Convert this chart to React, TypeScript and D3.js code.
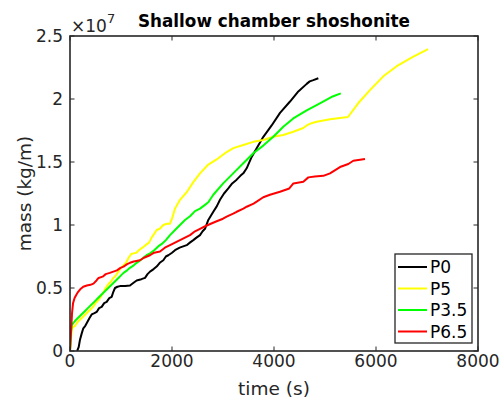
import React from "react";
import * as d3 from "d3";

const title = "Shallow chamber shoshonite";
const xLabel = "time (s)";
const yLabel = "mass (kg/m)";
const xTicks = [0, 2000, 4000, 6000, 8000];
const yTicks = [0, 0.5, 1, 1.5, 2, 2.5];
const seriesNames = ["P0", "P5", "P3.5", "P6.5"];
const seriesColors = ["#000000", "#ffff00", "#00ff00", "#ff0000"];

// values: [time (s), mass (x1e7 kg/m)]
const p0: [number, number][] = [
  [140, 0], [170, 0.03], [196, 0.09], [230, 0.14], [261, 0.18], [300, 0.2], [327, 0.22], [380, 0.26],
  [425, 0.29], [480, 0.3], [523, 0.31], [570, 0.34], [621, 0.35], [670, 0.38], [719, 0.39], [770, 0.42],
  [817, 0.43], [850, 0.47], [882, 0.5], [930, 0.51], [980, 0.515], [1080, 0.515], [1176, 0.52], [1240, 0.54],
  [1307, 0.56], [1400, 0.57], [1471, 0.58], [1520, 0.61], [1569, 0.63], [1640, 0.65], [1699, 0.67], [1760, 0.7],
  [1830, 0.72], [1880, 0.75], [1928, 0.76], [2000, 0.78], [2059, 0.8], [2150, 0.82], [2288, 0.84], [2350, 0.86],
  [2418, 0.88], [2480, 0.9], [2549, 0.92], [2600, 0.95], [2647, 0.97], [2712, 1.04], [2810, 1.105], [2880, 1.15],
  [2941, 1.2], [3020, 1.25], [3104, 1.29], [3180, 1.33], [3268, 1.36], [3340, 1.39], [3398, 1.41], [3464, 1.45],
  [3562, 1.54], [3660, 1.61], [3791, 1.7], [3954, 1.79], [4118, 1.89], [4314, 1.98], [4477, 2.06], [4641, 2.12],
  [4700, 2.14], [4771, 2.15], [4869, 2.165],
];
const p5: [number, number][] = [
  [0, 0], [20, 0.1], [35, 0.17], [60, 0.19], [100, 0.2], [150, 0.23], [200, 0.25], [250, 0.27], [300, 0.29],
  [350, 0.31], [400, 0.33], [450, 0.35], [500, 0.38], [550, 0.4], [600, 0.43], [650, 0.46], [700, 0.5],
  [750, 0.53], [800, 0.55], [850, 0.58], [900, 0.6], [950, 0.63], [1000, 0.66], [1050, 0.68], [1100, 0.7],
  [1150, 0.74], [1200, 0.77], [1250, 0.775], [1300, 0.78], [1350, 0.8], [1420, 0.82], [1480, 0.84], [1550, 0.86],
  [1600, 0.9], [1650, 0.93], [1700, 0.96], [1760, 0.97], [1830, 1.0], [1900, 1.01], [1961, 1.01], [2000, 1.05],
  [2059, 1.13], [2157, 1.2], [2288, 1.26], [2418, 1.34], [2549, 1.41], [2712, 1.48], [2876, 1.52], [3039, 1.57],
  [3202, 1.61], [3398, 1.635], [3594, 1.66], [3790, 1.675], [3986, 1.7], [4182, 1.714], [4378, 1.74], [4574, 1.77],
  [4641, 1.79], [4750, 1.81], [4837, 1.82], [5100, 1.84], [5451, 1.857], [5650, 1.966], [5882, 2.07], [6143, 2.18],
  [6406, 2.26], [6732, 2.336], [7020, 2.395],
];
const p35: [number, number][] = [
  [0, 0], [15, 0.12], [30, 0.2], [60, 0.22], [100, 0.24], [150, 0.26], [200, 0.28], [250, 0.3], [300, 0.32],
  [350, 0.34], [400, 0.36], [450, 0.38], [500, 0.4], [550, 0.42], [600, 0.44], [650, 0.46], [700, 0.48],
  [750, 0.5], [800, 0.52], [850, 0.54], [900, 0.56], [950, 0.58], [1000, 0.6], [1050, 0.62], [1120, 0.64],
  [1176, 0.66], [1250, 0.68], [1307, 0.7], [1380, 0.72], [1438, 0.74], [1500, 0.76], [1570, 0.775], [1650, 0.8],
  [1730, 0.83], [1800, 0.85], [1880, 0.88], [1961, 0.92], [2059, 0.96], [2157, 1.0], [2255, 1.04], [2353, 1.07],
  [2451, 1.11], [2549, 1.13], [2647, 1.16], [2712, 1.18], [2810, 1.24], [3004, 1.33], [3200, 1.41], [3398, 1.49],
  [3594, 1.57], [3790, 1.63], [3986, 1.7], [4182, 1.78], [4378, 1.846], [4641, 1.91], [4900, 1.966], [5150, 2.02],
  [5310, 2.045],
];
const p65: [number, number][] = [
  [0, 0], [20, 0.15], [40, 0.3], [60, 0.38], [90, 0.42], [130, 0.45], [160, 0.47], [200, 0.49], [260, 0.51],
  [330, 0.52], [400, 0.525], [460, 0.535], [520, 0.56], [560, 0.58], [640, 0.59], [700, 0.61], [780, 0.62],
  [850, 0.63], [920, 0.64], [990, 0.66], [1050, 0.67], [1120, 0.69], [1176, 0.7], [1250, 0.71], [1372, 0.72],
  [1450, 0.74], [1568, 0.76], [1650, 0.78], [1765, 0.79], [1860, 0.82], [1961, 0.84], [2059, 0.86], [2157, 0.88],
  [2255, 0.9], [2353, 0.92], [2451, 0.95], [2549, 0.97], [2650, 0.99], [2760, 1.01], [2876, 1.03], [3000, 1.05],
  [3072, 1.066], [3200, 1.09], [3268, 1.105], [3400, 1.13], [3464, 1.145], [3600, 1.17], [3660, 1.185], [3790, 1.22],
  [3921, 1.24], [4117, 1.264], [4300, 1.29], [4380, 1.33], [4575, 1.344], [4673, 1.378], [4800, 1.385], [4967, 1.39],
  [5098, 1.41], [5294, 1.46], [5457, 1.484], [5555, 1.51], [5784, 1.524],
];
const seriesData = [p0, p5, p35, p65];

const W = 504;
const H = 403;
const left = 70;
const right = 478;
const top = 36;
const bottom = 351;
const FONT = "DejaVu Sans, sans-serif";
const AX = "#262626";

export default function App() {
  const x = d3.scaleLinear().domain([0, 8000]).range([left, right]);
  const y = d3.scaleLinear().domain([0, 2.5]).range([bottom, top]);
  const line = d3
    .line<[number, number]>()
    .x((d) => x(d[0]))
    .y((d) => y(d[1]));
  const tickLen = 4.5;
  const legX = 395;
  const legY = 254;
  const legW = 77;
  const legH = 89;
  const legRow = 21.5;

  return (
    <svg
      width={W}
      height={H}
      style={{ position: "absolute", left: 0, top: 0, background: "#fff" }}
      fontFamily={FONT}
    >
      <rect x={0} y={0} width={W} height={H} fill="#fff" />
      <defs>
        <clipPath id="plot">
          <rect x={left} y={top} width={right - left} height={bottom - top} />
        </clipPath>
      </defs>
      <g clipPath="url(#plot)">
        {seriesData.map((s, i) => (
          <path
            key={seriesNames[i]}
            d={line(s) || ""}
            fill="none"
            stroke={seriesColors[i]}
            strokeWidth={2}
            strokeLinejoin="round"
          />
        ))}
      </g>
      {xTicks.map((t) => (
        <g key={"x" + t}>
          <line x1={x(t)} x2={x(t)} y1={bottom} y2={bottom - tickLen} stroke={AX} strokeWidth={1} />
          <line x1={x(t)} x2={x(t)} y1={top} y2={top + tickLen} stroke={AX} strokeWidth={1} />
          <text x={x(t)} y={367} textAnchor="middle" fontSize={17} fill={AX}>
            {t}
          </text>
        </g>
      ))}
      {yTicks.map((t) => (
        <g key={"y" + t}>
          <line x1={left} x2={left + tickLen} y1={y(t)} y2={y(t)} stroke={AX} strokeWidth={1} />
          <line x1={right} x2={right - tickLen} y1={y(t)} y2={y(t)} stroke={AX} strokeWidth={1} />
          <text x={63} y={y(t)} dy="0.36em" textAnchor="end" fontSize={17} fill={AX}>
            {t}
          </text>
        </g>
      ))}
      <rect
        x={left}
        y={top}
        width={right - left}
        height={bottom - top}
        fill="none"
        stroke={AX}
        strokeWidth={1.6}
      />
      <text x={71} y={32} fontSize={17} fill={AX}>
        ×10
        <tspan fontSize={13} dy={-9.5}>
          7
        </tspan>
      </text>
      <text x={274} y={27} textAnchor="middle" fontSize={16.8} fontWeight="bold" fill="#000">
        {title}
      </text>
      <text x={274} y={395} textAnchor="middle" fontSize={18.5} fill={AX}>
        {xLabel}
      </text>
      <text
        transform={`translate(31, ${(top + bottom) / 2}) rotate(-90)`}
        textAnchor="middle"
        fontSize={18.5}
        fill={AX}
      >
        {yLabel}
      </text>
      <rect x={legX} y={legY} width={legW} height={legH} fill="#fff" stroke={AX} strokeWidth={1.3} />
      {seriesNames.map((n, i) => {
        const cy = legY + 13 + i * legRow;
        return (
          <g key={"leg" + n}>
            <line x1={legX + 3} x2={legX + 32} y1={cy} y2={cy} stroke={seriesColors[i]} strokeWidth={2} />
            <text x={legX + 35} y={cy} dy="0.36em" fontSize={17} fill="#000">
              {n}
            </text>
          </g>
        );
      })}
    </svg>
  );
}
